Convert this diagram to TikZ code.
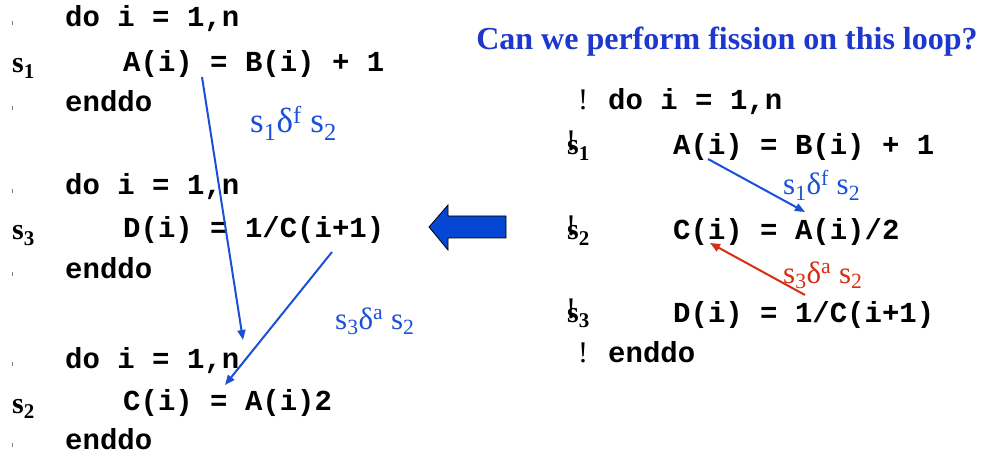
\documentclass[tikz,border=0pt]{standalone}
\usepackage{fontspec}
\setmainfont{Liberation Serif}
\setmonofont{Liberation Mono}
\usetikzlibrary{arrows.meta}
\definecolor{depblue}{RGB}{25,80,215}
\definecolor{depred}{RGB}{215,45,20}
\definecolor{titleblue}{RGB}{30,55,205}
\definecolor{arrowblue}{RGB}{5,70,210}

\begin{document}
\begin{tikzpicture}[x=1pt,y=-1pt,
  code/.style={anchor=base west,inner sep=0pt,font=\ttfamily\bfseries\fontsize{29}{34}\selectfont},
  stmt/.style={anchor=base west,inner sep=0pt,font=\bfseries\fontsize{30}{34}\selectfont},
  bang/.style={anchor=base west,inner sep=0pt,font=\fontsize{30}{34}\selectfont},
  dep/.style={anchor=base west,inner sep=0pt,font=\fontsize{31}{36}\selectfont},
  deparrow/.style={line width=2pt,-{Triangle[length=10pt,width=8pt]}},
  tick/.style={line width=0.6pt,gray}]
  \useasboundingbox (0,0) rectangle (984,454);
  % left: three loops after fission
  \node[code] (do1) at (65,27) {do i = 1,n};
  \node[code] (a1) at (123,72) {A(i) = B(i) + 1};
  \node[code] (end1) at (65,112) {enddo};
  \node[code] (do2) at (65,195) {do i = 1,n};
  \node[code] (d2) at (123,237) {D(i) = 1/C(i+1)};
  \node[code] (end2) at (65,278) {enddo};
  \node[code] (do3) at (65,368) {do i = 1,n};
  \node[code] (c3) at (123,410) {C(i) = A(i)2};
  \node[code] (end3) at (65,449) {enddo};
  \node[stmt] (ls1) at (12,73) {s\textsubscript{1}};
  \node[stmt] (ls3) at (12,240) {s\textsubscript{3}};
  \node[stmt] (ls2) at (12,413) {s\textsubscript{2}};
  \foreach \y in {27,112,195,278,368,449}
    \draw[tick] (12,\y-6) -- (12,\y-2);
  % left dependences
  \coordinate (la1) at (202,77);
  \coordinate (la2) at (243,340);
  \coordinate (lb1) at (332,252);
  \coordinate (lb2) at (225,385);
  \draw[deparrow,depblue] (la1) -- (la2);
  \draw[deparrow,depblue] (lb1) -- (lb2);
  \node[dep,depblue,font=\fontsize{35}{38}\selectfont] (lf) at (250,133) {s\textsubscript{1}δ\textsuperscript{f} s\textsubscript{2}};
  \node[dep,depblue] (la) at (335,329) {s\textsubscript{3}δ\textsuperscript{a} s\textsubscript{2}};
  % big arrow
  \draw[fill=arrowblue,line width=0.8pt] (429,227) -- (448,205) -- (448,216) -- (506,216)
    -- (506,238) -- (448,238) -- (448,250) -- cycle;
  % right: original loop
  \node[font=\bfseries\fontsize{32}{36}\selectfont,titleblue,anchor=base] (title) at (727,50)
    {Can we perform fission on this loop?};
  \node[bang] (rbang1) at (578,110) {!};
  \node[code] (rdo) at (608,110) {do i = 1,n};
  \node[code] (ra) at (673,155) {A(i) = B(i) + 1};
  \node[code] (rc) at (673,240) {C(i) = A(i)/2};
  \node[code] (rd) at (673,322) {D(i) = 1/C(i+1)};
  \node[bang] (rbang2) at (578,362) {!};
  \node[code] (rend) at (608,362) {enddo};
  \foreach \n/\y in {1/155,2/240,3/322}{
    \node[stmt] (rs\n) at (567,\y) {s\textsubscript{\n}};
    \node[bang] at (566,\y-4) {!};
  }
  % right dependences
  \coordinate (ra1) at (708,159);
  \coordinate (ra2) at (805,212);
  \coordinate (rb1) at (805,295);
  \coordinate (rb2) at (710,243);
  \draw[deparrow,depblue] (ra1) -- (ra2);
  \draw[deparrow,depred] (rb1) -- (rb2);
  \node[dep,depblue] (rf) at (783,195) {s\textsubscript{1}δ\textsuperscript{f} s\textsubscript{2}};
  \node[dep,depred] (rr) at (783,283) {s\textsubscript{3}δ\textsuperscript{a} s\textsubscript{2}};
\end{tikzpicture}
\end{document}
